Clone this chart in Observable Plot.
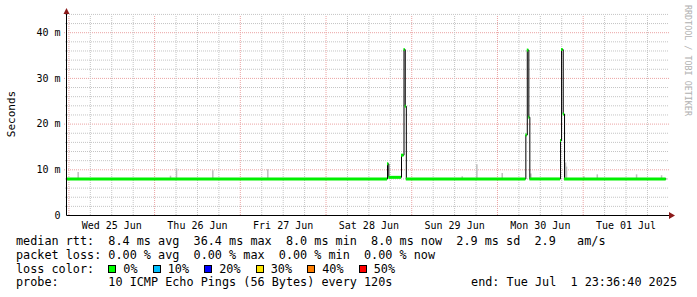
<!DOCTYPE html>
<html><head><meta charset="utf-8">
<script src="https://cdn.jsdelivr.net/npm/d3@7"></script>
<script src="https://cdn.jsdelivr.net/npm/@observablehq/plot@0.6"></script>
<style>
html,body{margin:0;padding:0;background:#fff;}
#chart svg{display:block;}
#legend{width:697px;box-sizing:border-box;padding:3px 0 0 16px;font-family:"DejaVu Sans Mono",monospace;font-size:11.8px;color:#000;}
#legend .row{height:13.8px;line-height:13.8px;white-space:pre;position:relative;}
#legend .flex{display:flex;align-items:center;}
#legend .box{display:inline-block;width:8px;height:8px;box-sizing:border-box;border:1px solid #000;margin-right:7px;}
#legend .lt{margin-right:15.2px;}
#legend .end{position:absolute;right:20px;top:0;}
</style>
</head><body>
<div id="chart"></div>
<div id="legend"></div>
<script>
// ---- data ----
const rangeStart = "2025-06-24T23:36:40Z";
const rangeEnd = "2025-07-01T23:36:40Z";

// median rtt as steps: boundaries (n+1) and values (n), in ms
const medianTimes = [
  "2025-06-24T23:36:40Z", "2025-06-28T17:13Z", "2025-06-28T17:35Z", "2025-06-28T21:08Z",
  "2025-06-28T21:50Z", "2025-06-28T22:11Z", "2025-06-28T22:29Z", "2025-06-30T07:57Z",
  "2025-06-30T08:21Z", "2025-06-30T08:47Z", "2025-06-30T09:04Z", "2025-06-30T17:40Z",
  "2025-06-30T17:57Z", "2025-06-30T18:25Z", "2025-06-30T18:47Z", "2025-07-01T23:15Z"
];
const medianValues = [8.0, 11.3, 8.35, 13.2, 36.3, 23.9, 8.0, 17.6, 36.2, 21.5, 8.0, 16.4, 36.3, 22.2, 8.0];

// smoke (ping spread) tops, in ms
const smokeTimes = [
  "2025-06-25T02:36Z", "2025-06-26T04:27Z", "2025-06-26T06:08Z", "2025-06-26T16:18Z",
  "2025-06-27T07:42Z", "2025-06-29T14:08Z", "2025-06-29T18:14Z", "2025-06-30T01:20Z",
  "2025-06-30T09:21Z", "2025-06-30T19:04Z", "2025-06-30T19:20Z", "2025-07-01T00:12Z",
  "2025-07-01T03:57Z", "2025-07-01T14:57Z", "2025-07-01T21:57Z"
];
const smokeTops = [9.4, 8.6, 10.2, 9.8, 10.0, 8.5, 11.1, 9.2, 9.1, 11.5, 10.6, 8.5, 8.9, 8.9, 8.7];

const dayLabels = ["Wed 25 Jun", "Thu 26 Jun", "Fri 27 Jun", "Sat 28 Jun", "Sun 29 Jun", "Mon 30 Jun", "Tue 01 Jul"];
const dayNoons = ["2025-06-25T12:00Z", "2025-06-26T12:00Z", "2025-06-27T12:00Z", "2025-06-28T12:00Z",
                  "2025-06-29T12:00Z", "2025-06-30T12:00Z", "2025-07-01T12:00Z"];
const yTickValues = [0, 10, 20, 30, 40];
const yTickLabels = ["0", "10 m", "20 m", "30 m", "40 m"];
const yMax = 44.2;
const yTitle = "Seconds";
const credit = "RRDTOOL / TOBI OETIKER";

const rttStats = ["8.4 ms avg", "36.4 ms max", "8.0 ms min", "8.0 ms now", "2.9 ms sd", "2.9   am/s"];
const lossStats = ["0.00 % avg", "0.00 % max", "0.00 % min", "0.00 % now"];
const lossLabels = ["0%", "10%", "20%", "30%", "40%", "50%"];
const lossColors = ["#00ff00", "#00bfff", "#0000ff", "#ffe600", "#ff7f00", "#ff0000"];
const probeText = "10 ICMP Echo Pings (56 Bytes) every 120s";
const endText = "end: Tue Jul  1 23:36:40 2025";

// ---- build ----
const t0 = new Date(rangeStart), t1 = new Date(rangeEnd);
const segs = medianValues.map((v, i) => ({x1: new Date(medianTimes[i]), x2: new Date(medianTimes[i + 1]), v}));
const linePts = segs.map(s => ({t: s.x1, v: s.v})).concat([{t: segs[segs.length - 1].x2, v: segs[segs.length - 1].v}]);
const smoke = smokeTimes.map((t, i) => ({t: new Date(t), top: smokeTops[i]}));
const baseline = 8.0;

const hour6 = d3.utcHour.every(6).range(t0, t1);
const vMinor = hour6.filter(d => d.getUTCHours() !== 0);
const vMajor = hour6.filter(d => d.getUTCHours() === 0);
const hMinor = d3.range(2, yMax, 2).filter(v => v % 10 !== 0);
const hMajor = yTickValues.filter(v => v > 0);

const gridGrey = "#c4c4c4", gridRed = "#eba3a3", arrowCol = "#8b1a1a";

function axes(index, scales, values, dims) {
  const {height, marginLeft, marginBottom, marginTop, width, marginRight} = dims;
  const x0 = marginLeft - 0.5, y0 = height - marginBottom + 0.5, xr = width - marginRight;
  const g = d3.create("svg:g");
  g.append("line").attr("x1", x0).attr("x2", xr + 4).attr("y1", y0).attr("y2", y0).attr("stroke", "#000");
  g.append("line").attr("x1", x0).attr("x2", x0).attr("y1", y0).attr("y2", marginTop - 3).attr("stroke", "#000");
  g.append("polygon").attr("points", `${xr + 2},${y0 - 3.5} ${xr + 2},${y0 + 3.5} ${xr + 8},${y0}`).attr("fill", arrowCol);
  g.append("polygon").attr("points", `${x0 - 3},${marginTop + 1} ${x0 + 3},${marginTop + 1} ${x0},${marginTop - 5}`).attr("fill", arrowCol);
  // y title, centred on the plot frame
  g.append("text").attr("transform", `translate(11,${(marginTop + height - marginBottom) / 2}) rotate(-90)`)
    .attr("text-anchor", "middle").attr("dominant-baseline", "central")
    .attr("font-size", 11).attr("fill", "#000").text(yTitle);
  // watermark on the right edge
  g.append("text").attr("transform", `translate(${xr + 21},5) rotate(90)`)
    .attr("text-anchor", "start").attr("dominant-baseline", "central")
    .attr("font-size", 8.4).attr("fill", "#b0b0b0").text(credit);
  return g.node();
}

const chart = Plot.plot({
  width: 697, height: 232,
  marginLeft: 67, marginRight: 30, marginTop: 13, marginBottom: 17,
  style: {fontFamily: "'DejaVu Sans Mono', monospace", fontSize: "10px", background: "#fff", overflow: "visible"},
  x: {type: "utc", domain: [t0, t1], axis: null},
  y: {domain: [0, yMax], axis: null},
  marks: [
    Plot.ruleY(hMinor, {stroke: gridGrey, strokeDasharray: "1,1", insetLeft: -2, insetRight: -2}),
    Plot.ruleY(hMajor, {stroke: gridRed, strokeDasharray: "1,1", insetLeft: -3, insetRight: -2}),
    Plot.ruleX(vMinor, {y1: 0, y2: yMax, stroke: gridGrey, strokeDasharray: "1,1", insetBottom: -2}),
    Plot.ruleX(vMajor, {y1: 0, y2: yMax, stroke: gridRed, strokeDasharray: "1,1", insetBottom: -3}),
    Plot.ruleX(smoke, {x: "t", y1: baseline, y2: "top", stroke: "#bdbdbd", strokeWidth: 1.5}),
    Plot.line(linePts, {x: "t", y: "v", curve: "step-after", stroke: "#000", strokeWidth: 1}),
    Plot.ruleY(segs, {x1: "x1", x2: "x2", y: "v", stroke: "#00f000", strokeWidth: 3, strokeLinecap: "butt"}),
    axes,
    Plot.text(dayLabels, {x: (d, i) => new Date(dayNoons[i]), y: 0, text: d => d, dy: 10, fill: "#000", fontSize: 10}),
    Plot.text(yTickLabels, {x: t0, y: (d, i) => yTickValues[i], text: d => d, dx: -7, textAnchor: "end", fill: "#000", fontSize: 10})
  ]
});
document.getElementById("chart").appendChild(chart);

// ---- legend ----
const leg = d3.select("#legend");
leg.append("div").attr("class", "row").text("median rtt:  " + rttStats.join("  "));
leg.append("div").attr("class", "row").text("packet loss: " + lossStats.join("  "));
const r3 = leg.append("div").attr("class", "row flex");
r3.append("span").text("loss color:  ");
lossLabels.forEach((l, i) => {
  r3.append("span").attr("class", "box").style("background", lossColors[i]);
  r3.append("span").attr("class", "lt").text(l);
});
const r4 = leg.append("div").attr("class", "row");
r4.append("span").text("probe:       " + probeText);
r4.append("span").attr("class", "end").text(endText);
</script>
</body></html>
